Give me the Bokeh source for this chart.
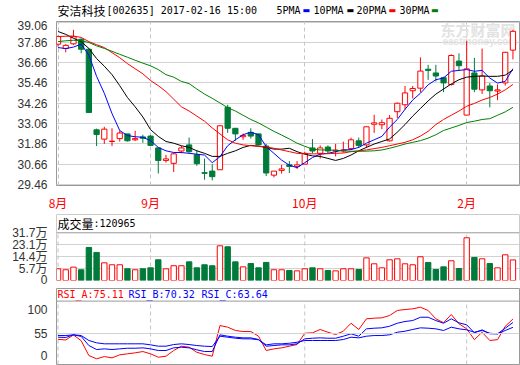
from bokeh.plotting import figure
from bokeh.layouts import column
from bokeh.models import (ColumnDataSource, Range1d, FixedTicker, CustomJSTickFormatter,
                          NumeralTickFormatter, Span, Label)
from bokeh.embed import file_html
from bokeh.resources import INLINE

# ---------------- data ----------------
open_ = [37.75, 37.50, 37.77, 38.04, 37.45, 32.69, 32.14, 32.00, 32.17, 32.45,
         32.10, 32.27, 32.32, 31.62, 30.88, 30.71, 31.44, 31.80, 31.21, 30.16,
         30.25, 30.33, 34.02, 32.78, 32.28, 32.54, 32.45, 31.73, 30.01, 30.29,
         30.62, 30.53, 30.66, 31.62, 31.30, 31.67, 31.44, 31.44, 31.58, 32.04,
         31.80, 33.02, 32.99, 32.04, 33.76, 34.17, 35.00, 35.15, 36.27, 36.05,
         35.77, 35.37, 36.75, 33.56, 36.05, 35.05, 35.28, 34.98, 35.46, 37.40]
high = [38.25, 37.75, 38.60, 38.10, 37.50, 32.76, 32.87, 32.78, 32.65, 32.45,
        32.63, 32.40, 32.38, 31.65, 31.21, 31.34, 31.73, 32.23, 31.49, 30.99,
        30.66, 32.93, 34.17, 32.78, 32.47, 32.78, 32.45, 31.86, 30.25, 30.62,
        30.84, 30.84, 31.40, 32.14, 31.77, 31.77, 31.86, 31.99, 32.23, 32.23,
        32.87, 33.58, 33.30, 33.56, 34.30, 35.28, 35.28, 36.97, 36.53, 36.53,
        35.83, 37.15, 37.21, 37.95, 36.94, 37.49, 35.46, 35.37, 37.30, 38.60]
low = [37.60, 37.27, 37.70, 37.21, 33.71, 31.73, 31.86, 31.73, 32.00, 32.00,
       32.03, 31.92, 31.73, 30.11, 30.75, 30.20, 31.30, 31.30, 30.56, 29.74,
       29.70, 30.33, 32.51, 32.04, 32.10, 32.17, 31.77, 29.96, 29.88, 30.10,
       30.14, 30.38, 30.66, 31.30, 30.99, 31.30, 31.12, 31.34, 31.49, 31.62,
       31.62, 32.51, 32.73, 32.00, 33.39, 33.89, 34.54, 34.91, 35.64, 35.55,
       34.91, 35.30, 36.20, 33.56, 34.91, 34.81, 34.02, 34.44, 35.30, 36.85]
close = [38.20, 37.68, 38.19, 37.45, 33.71, 32.41, 32.73, 32.02, 32.50, 32.04,
         32.17, 32.19, 31.77, 30.88, 30.97, 31.27, 31.62, 31.40, 30.69, 30.12,
         29.92, 32.93, 32.78, 32.45, 32.36, 32.32, 31.80, 30.14, 30.25, 30.38,
         30.53, 30.62, 31.30, 31.44, 31.62, 31.44, 31.49, 31.50, 32.10, 31.77,
         32.87, 33.10, 33.11, 33.37, 34.26, 34.87, 35.13, 36.16, 36.20, 35.87,
         35.46, 37.08, 36.48, 36.29, 35.09, 35.87, 35.00, 35.05, 37.27, 38.51]
# volume in 万 (10k lots)
volume = [5.7, 5.0, 6.9, 5.0, 21.1, 17.5, 10.0, 8.6, 8.6, 5.7,
          5.0, 5.7, 6.4, 12.2, 5.7, 7.9, 7.9, 10.7, 6.4, 8.6,
          7.9, 22.3, 21.6, 10.7, 7.1, 9.5, 6.4, 10.3, 5.0, 5.0,
          4.5, 4.2, 5.7, 6.4, 5.7, 4.5, 4.2, 5.7, 5.7, 5.2,
          13.6, 9.3, 6.4, 12.2, 12.9, 9.3, 8.6, 14.4, 10.3, 5.2,
          7.1, 11.5, 5.9, 28.1, 13.9, 12.9, 9.5, 6.4, 15.8, 12.1]
ma5 = [37.55, 37.49, 37.58, 37.75, 37.10, 35.85, 34.85, 33.65, 32.65, 32.35,
       32.28, 32.25, 32.05, 31.65, 31.45, 31.35, 31.35, 31.30, 31.25, 31.20,
       30.75, 31.10, 31.75, 32.10, 32.40, 32.55, 32.40, 31.70, 31.30, 30.90,
       30.60, 30.45, 30.75, 31.05, 31.25, 31.30, 31.40, 31.50, 31.52, 31.65,
       31.90, 32.10, 32.30, 32.85, 33.30, 33.90, 34.45, 34.85, 35.35, 35.65,
       35.75, 36.15, 36.20, 36.25, 36.15, 36.20, 35.75, 35.45, 35.55, 36.30]
ma10 = [38.50, 38.33, 38.10, 37.90, 37.50, 36.90, 36.45, 35.95, 35.30, 34.60,
        34.05, 33.45, 32.70, 32.30, 32.00, 31.90, 31.75, 31.65, 31.45, 31.30,
        31.12, 31.12, 31.30, 31.45, 31.65, 31.77, 31.72, 31.65, 31.55, 31.55,
        31.60, 31.40, 31.25, 31.15, 31.12, 31.00, 30.88, 31.00, 31.20, 31.45,
        31.65, 31.85, 32.00, 32.15, 32.55, 33.00, 33.50, 33.95, 34.40, 34.80,
        35.10, 35.40, 35.65, 35.80, 35.85, 35.87, 35.85, 35.85, 35.92, 36.23]
ma20 = [38.20, 38.22, 38.23, 38.15, 37.90, 37.72, 37.55, 37.25, 36.95, 36.60,
        36.30, 36.00, 35.60, 35.30, 34.95, 34.50, 34.05, 33.80, 33.50, 33.20,
        32.80, 32.45, 32.10, 31.90, 31.80, 31.75, 31.72, 31.67, 31.60, 31.50,
        31.40, 31.30, 31.28, 31.27, 31.27, 31.28, 31.30, 31.32, 31.40, 31.45,
        31.50, 31.58, 31.65, 31.75, 31.85, 31.95, 32.10, 32.32, 32.60, 33.00,
        33.30, 33.55, 33.80, 34.08, 34.25, 34.45, 34.60, 34.80, 35.05, 35.37]
ma30 = [37.90, 37.95, 37.98, 37.95, 37.85, 37.65, 37.50, 37.33, 37.15, 36.98,
        36.80, 36.63, 36.47, 36.25, 35.95, 35.80, 35.55, 35.42, 35.10, 34.80,
        34.55, 34.28, 34.00, 33.80, 33.55, 33.30, 33.10, 32.85, 32.60, 32.38,
        32.15, 31.90, 31.72, 31.55, 31.50, 31.50, 31.48, 31.45, 31.42, 31.42,
        31.43, 31.45, 31.50, 31.60, 31.72, 31.85, 31.95, 32.05, 32.20, 32.40,
        32.65, 32.80, 32.95, 33.12, 33.20, 33.30, 33.35, 33.55, 33.75, 34.02]
rsi_a = [47.0, 46.0, 53.0, 45.0, 24.4, 19.9, 23.0, 21.2, 25.4, 26.8,
         28.2, 30.0, 26.8, 22.1, 23.5, 31.4, 37.4, 36.0, 29.0, 25.8,
         23.5, 66.1, 63.8, 59.2, 57.8, 57.8, 51.3, 31.4, 33.7, 35.1,
         37.4, 39.7, 55.4, 56.0, 60.6, 56.8, 53.6, 58.2, 69.3, 60.6,
         75.4, 76.3, 76.8, 80.0, 87.0, 88.3, 89.3, 91.5, 87.0, 75.4,
         70.0, 81.4, 68.5, 61.5, 46.5, 56.8, 45.3, 46.5, 65.0, 75.11]
rsi_b = [49.9, 49.5, 53.2, 51.0, 38.3, 32.8, 33.7, 32.8, 33.7, 34.6,
         34.6, 35.1, 33.7, 31.4, 31.4, 35.1, 36.0, 35.1, 32.4, 30.0,
         30.0, 53.2, 51.3, 49.9, 49.0, 49.0, 46.7, 37.4, 38.3, 39.3,
         39.3, 40.7, 47.6, 48.5, 49.0, 48.5, 48.5, 51.3, 54.6, 51.3,
         61.5, 62.4, 62.9, 65.1, 69.3, 71.7, 73.0, 77.6, 77.6, 73.0,
         69.3, 75.4, 69.8, 67.1, 56.0, 60.1, 54.6, 54.6, 62.4, 70.32]
rsi_c = [52.2, 52.2, 53.2, 52.2, 45.3, 42.1, 40.7, 40.7, 40.7, 40.7,
         40.7, 40.7, 39.3, 37.4, 37.4, 39.7, 40.7, 39.7, 38.3, 37.4,
         36.9, 51.3, 49.9, 48.5, 47.6, 47.6, 46.3, 39.3, 40.7, 40.7,
         41.5, 42.9, 45.3, 45.3, 45.3, 45.3, 45.3, 46.7, 49.9, 49.0,
         51.3, 52.2, 52.2, 53.2, 56.8, 58.2, 60.6, 62.9, 62.4, 61.5,
         59.2, 63.8, 61.5, 60.1, 56.8, 59.2, 55.4, 54.6, 59.2, 63.64]
price_ticks = [29.46, 30.66, 31.86, 33.06, 34.26, 35.46, 36.66, 37.86, 39.06]
vol_ticks = [5.7, 14.4, 23.1, 31.7]
month_idx = [0, 12, 32, 53]
month_labels = ["8月", "9月", "10月", "2月"]
title_name = "安洁科技"
title_rest = "[002635] 2017-02-16 15:00"
ma_names = ["5PMA", "10PMA", "20PMA", "30PMA"]
vol_name = "成交量"
vol_last = ":120965"
rsi_heads = ["RSI_A:75.11", "RSI_B:70.32", "RSI_C:63.64"]

# ---------------- styles ----------------
RED = "#ff0000"; GREEN = "#007a3a"; BLUE = "#0000ff"; BLACK = "#000000"; MAGREEN = "#008000"
BORDER = "#999999"; GRID = "#d2d2d2"; DASH = "#c4c4c4"; TICK = "#333333"
CJK = "Noto Sans CJK SC"; MONO = "DejaVu Sans Mono"; SANS = "Liberation Sans"

n = len(close)
idx = list(range(n))
up = [c >= o for o, c in zip(open_, close)]
src = ColumnDataSource(dict(
    x=idx, o=open_, h=high, l=low, c=close,
    top=[max(o, c) for o, c in zip(open_, close)],
    bot=[min(o, c) for o, c in zip(open_, close)],
    col=[RED if u else GREEN for u in up],
    fill=["#ffffff" if u else GREEN for u in up],
    vol=volume))

X0, X1 = -0.2, 59.85
FW = 463
def sx(px):
    return X0 + (px - 56) * (X1 - X0) / FW

# price panel frame: y 21..196
Y1LO, Y1HI = 29.40, 39.09
def sy1(py):
    return Y1HI - (py - 21) * (Y1HI - Y1LO) / 175
Y2LO, Y2HI = -2.75, 44.9
def sy2(py):
    return Y2HI - (py - 214) * (Y2HI - Y2LO) / 66
Y3LO, Y3HI = 12.0, 117.5
def sy3(py):
    return Y3HI - (py - 288) * (Y3HI - Y3LO) / 76

xr = Range1d(X0, X1)

def base(height, yr, top, bottom, xaxis=True):
    p = figure(width=520, height=height, x_range=xr, y_range=yr,
               output_backend="svg", toolbar_location=None, tools="",
               min_border_left=56, min_border_right=1, min_border_top=top,
               min_border_bottom=bottom,
               x_axis_location="below" if xaxis else None)
    p.background_fill_color = "white"
    p.border_fill_color = "white"
    p.outline_line_color = BORDER
    p.yaxis.major_tick_line_color = None
    p.yaxis.minor_tick_line_color = None
    p.yaxis.axis_line_color = None
    p.yaxis.major_label_text_color = TICK
    p.yaxis.major_label_text_font = SANS + ", " + CJK
    p.yaxis.major_label_text_font_size = "12px"
    p.yaxis.major_label_standoff = 3
    return p

# ---------------- header strip (title + MA legend) ----------------
# frame aligned with the panels below: x pixel 56..519, y pixel 0..20
p0 = figure(width=520, height=20, x_range=Range1d(56, 519), y_range=Range1d(0, 20),
            output_backend="svg", toolbar_location=None, tools="",
            x_axis_location=None, y_axis_location=None,
            min_border_left=56, min_border_right=1, min_border_top=0, min_border_bottom=0)
p0.outline_line_color = None
p0.grid.visible = False
p0.background_fill_color = "white"
p0.border_fill_color = "white"
p0.add_layout(Label(x=57, y=10, text=title_name, text_font=CJK,
                    text_font_size="12px", text_color=BLACK, text_baseline="middle"))
p0.add_layout(Label(x=106, y=10, text=title_rest, text_font=MONO,
                    text_font_size="10px", text_color=BLACK, text_baseline="middle"))
for name, tx, bx, c in zip(ma_names, [276, 313, 356, 399], [302, 346, 388, 430.5],
                           [BLUE, BLACK, RED, MAGREEN]):
    p0.add_layout(Label(x=tx, y=10, text=name, text_font=MONO,
                        text_font_size="10px", text_color=BLACK, text_baseline="middle"))
    p0.add_layout(Label(x=bx, y=10.5, text="▬", text_font="DejaVu Sans",
                        text_font_size="8px", text_color=c, text_baseline="middle"))

# ---------------- price panel ----------------
p1 = base(193, Range1d(Y1LO, Y1HI), 1, 17)
p1.yaxis.ticker = FixedTicker(ticks=price_ticks)
p1.yaxis.formatter = NumeralTickFormatter(format="0.00")
p1.ygrid.ticker = FixedTicker(ticks=price_ticks)
p1.ygrid.grid_line_color = GRID
p1.xgrid.ticker = FixedTicker(ticks=month_idx)
p1.xgrid.grid_line_color = DASH
p1.xgrid.grid_line_dash = "4 3"
p1.xaxis.ticker = FixedTicker(ticks=month_idx)
p1.xaxis.major_label_overrides = dict(zip(month_idx, month_labels))
p1.xaxis.major_tick_line_color = None
p1.xaxis.minor_tick_line_color = None
p1.xaxis.axis_line_color = None
p1.xaxis.major_label_text_color = RED
p1.xaxis.major_label_text_font = CJK
p1.xaxis.major_label_text_font_size = "12px"
p1.xaxis.major_label_text_align = "left"
p1.xaxis.major_label_standoff = 2

# watermark
p1.add_layout(Label(x=sx(440), y=sy1(30), text="东方财富网", text_font=CJK,
                    text_font_size="15px", text_font_style="bold", text_color="#e2e2e2",
                    text_baseline="middle", level="underlay"))
p1.add_layout(Label(x=sx(442), y=sy1(42), text="eastmoney.com", text_font=SANS,
                    text_font_size="10px", text_font_style="bold", text_color="#e4e4e4",
                    text_baseline="middle", level="underlay"))

p1.segment(x0="x", y0="l", x1="x", y1="h", line_color="col", line_width=1, source=src)
p1.vbar(x="x", width=0.68, top="top", bottom="bot", fill_color="fill",
        line_color="col", line_width=1, source=src)
for vals, c in zip([ma5, ma10, ma20, ma30], [BLUE, BLACK, RED, MAGREEN]):
    p1.line(idx, vals, line_color=c, line_width=1)

# ---------------- volume panel ----------------
p2 = base(74, Range1d(Y2LO, Y2HI), 1, 7, xaxis=False)
p2.outline_line_color = None
p2.yaxis.ticker = FixedTicker(ticks=[Y2LO + 0.05] + vol_ticks)
p2.yaxis.formatter = CustomJSTickFormatter(code="return tick < 0 ? '0' : tick.toFixed(1) + '万';")
p2.ygrid.ticker = FixedTicker(ticks=vol_ticks[:-1])
p2.ygrid.grid_line_color = GRID
p2.xgrid.visible = False
p2.segment(x0=month_idx, y0=[Y2LO] * len(month_idx), x1=month_idx,
           y1=[vol_ticks[-1]] * len(month_idx), line_color=DASH, line_dash="4 3")
p2.vbar(x="x", width=0.7, top="vol", bottom=Y2LO, fill_color="fill",
        line_color="col", line_width=1, source=src)
p2.add_layout(Span(location=vol_ticks[-1], dimension="width", line_color=BORDER, line_width=1))
p2.add_layout(Span(location=Y2HI, dimension="width", line_color=BORDER, line_width=1))
p2.add_layout(Span(location=X0, dimension="height", line_color=BORDER, line_width=1))
p2.add_layout(Span(location=X1, dimension="height", line_color=BORDER, line_width=1))
p2.add_layout(Label(x=sx(57), y=sy2(223), text=vol_name, text_font=CJK,
                    text_font_size="12px", text_color=BLACK, text_baseline="middle"))
p2.add_layout(Label(x=sx(93), y=sy2(223), text=vol_last, text_font=MONO,
                    text_font_size="10px", text_color=BLACK, text_baseline="middle"))

# ---------------- RSI panel ----------------
p3 = base(78, Range1d(Y3LO, Y3HI), 1, 1, xaxis=False)
p3.yaxis.ticker = FixedTicker(ticks=[sy3(355), 55, sy3(309)])
p3.yaxis.formatter = CustomJSTickFormatter(
    code="return tick > 80 ? '100' : (tick > 40 ? '55' : '0');")
p3.ygrid.visible = False
p3.xgrid.visible = False
p3.segment(x0=month_idx, y0=[Y3LO] * len(month_idx), x1=month_idx,
           y1=[100] * len(month_idx), line_color=DASH, line_dash="4 3")
p3.add_layout(Span(location=55, dimension="width", line_color=GRID, line_width=1))
p3.add_layout(Span(location=100, dimension="width", line_color=BORDER, line_width=1))
for vals, c in zip([rsi_a, rsi_b, rsi_c], [RED, BLUE, BLUE]):
    p3.line(idx, vals, line_color=c, line_width=1)
for txt, tx, c in zip(rsi_heads, [57, 128, 201], [RED, BLUE, BLUE]):
    p3.add_layout(Label(x=sx(tx), y=sy3(294), text=txt, text_font=MONO,
                        text_font_size="10px", text_color=c, text_baseline="middle"))

layout = column(p0, p1, p2, p3, spacing=0)
open("out.html", "w").write(file_html(layout, INLINE))
